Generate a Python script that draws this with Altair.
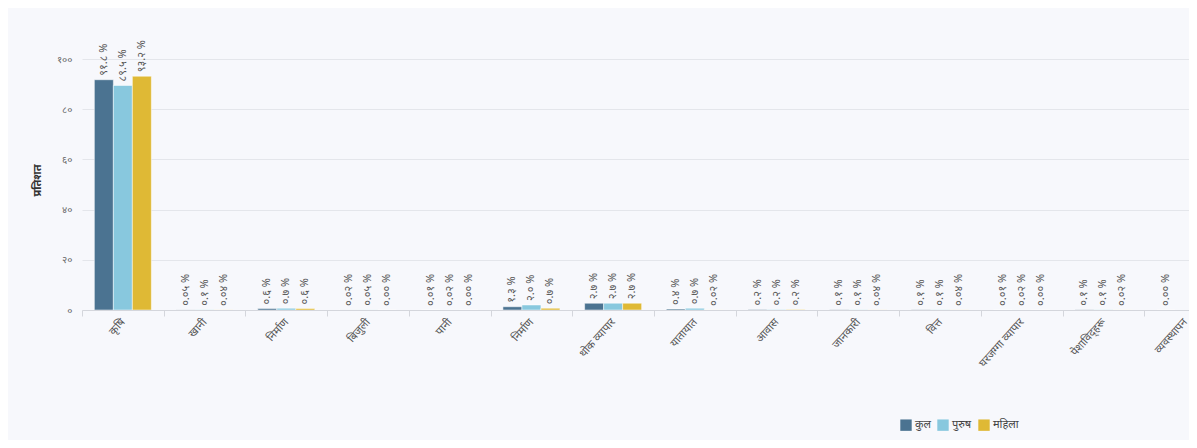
import altair as alt
import pandas as pd

categories = ["कृषि", "खानी", "निर्माण", "बिजुली", "पानी", "निर्माण", "थोक व्यापार",
              "यातायात", "आवास", "जानकारी", "वित्त", "घरजग्गा व्यापार", "पेशाविद्हरू", "व्यवस्थापन"]
series = ["कुल", "पुरुष", "महिला"]
kul = ["91.8", "0.05", "0.6", "0.02", "0.01", "1.3", "2.7", "0.4", "0.2", "0.1", "0.1", "0.01", "0.1", "0.00"]
purush = ["89.5", "0.1", "0.7", "0.05", "0.02", "2.0", "2.7", "0.7", "0.2", "0.1", "0.1", "0.02", "0.1", "0.00"]
mahila = ["93.2", "0.04", "0.6", "0.00", "0.00", "0.7", "2.7", "0.02", "0.2", "0.04", "0.04", "0.00", "0.02", "0.00"]
colors = ["#4b7391", "#88c8de", "#dfb935"]
y_ticks = [0, 20, 40, 60, 80, 100]

DIG = str.maketrans("0123456789", "०१२३४५६७८९")

rows = []
for name, vals in zip(series, [kul, purush, mahila]):
    for i, v in enumerate(vals):
        rows.append({"idx": i, "series": name, "value": float(v),
                     "label": v.translate(DIG) + " %"})
df = pd.DataFrame(rows)

cat_expr = "[" + ",".join("'" + c + "'" for c in categories) + "][datum.value]"
y_expr = "".join(f"datum.value == {t} ? '{str(t).translate(DIG)}' : " for t in y_ticks) + "datum.label"

FONT = "Noto Sans"
base = alt.Chart(df).encode(
    x=alt.X("idx:O", title=None,
            scale=alt.Scale(range=[0, 1144], paddingInner=0, paddingOuter=0),
            axis=alt.Axis(labelExpr=cat_expr, labelAngle=-48, labelAlign="right",
                          labelBaseline="middle", labelFontSize=11, labelColor="#555",
                          labelFont=FONT, tickBand="extent", tickColor="#d4d6dc",
                          tickSize=6, domainColor="#d4d6dc", labelPadding=4,
                          grid=False)),
    xOffset=alt.XOffset("series:N", sort=series,
                        scale=alt.Scale(paddingOuter=0.65, paddingInner=0)),
)

bars = base.mark_bar(clip=True, stroke="white", strokeWidth=0.5).encode(
    y=alt.Y("value:Q", title="प्रतिशत", scale=alt.Scale(domain=[0, 118], nice=False),
            axis=alt.Axis(values=y_ticks, labelExpr=y_expr, labelFontSize=10,
                          labelColor="#666", labelFont=FONT, domain=False, ticks=False,
                          gridColor="#e4e6eb", labelPadding=10,
                          titleFontSize=11, titleColor="#333", titleFont=FONT,
                          titleFontWeight="bold", titlePadding=14, titleY=166)),
    color=alt.Color("series:N", sort=series,
                    scale=alt.Scale(domain=series, range=colors),
                    legend=alt.Legend(title=None, orient="none", legendX=818, legendY=405,
                                      direction="horizontal", symbolType="square",
                                      symbolSize=130, symbolStrokeWidth=0,
                                      labelFontSize=11, labelColor="#444", labelFont=FONT,
                                      columnPadding=6, labelOffset=3)),
)

texts = base.mark_text(clip=True, angle=270, align="left", baseline="middle", dx=4,
                       fontSize=11, color="#555", font=FONT).encode(
    y=alt.Y("value:Q"),
    text="label:N",
)

chart = alt.layer(bars, texts).properties(
    width=1093, height=296,
    autosize=alt.AutoSizeParams(type="none"),
    padding={"left": 74, "top": 6, "right": 14, "bottom": 130},
    background="#f7f8fc",
).configure_view(stroke=None)

chart.save("out.html", embed_options={"renderer": "svg", "actions": False})
